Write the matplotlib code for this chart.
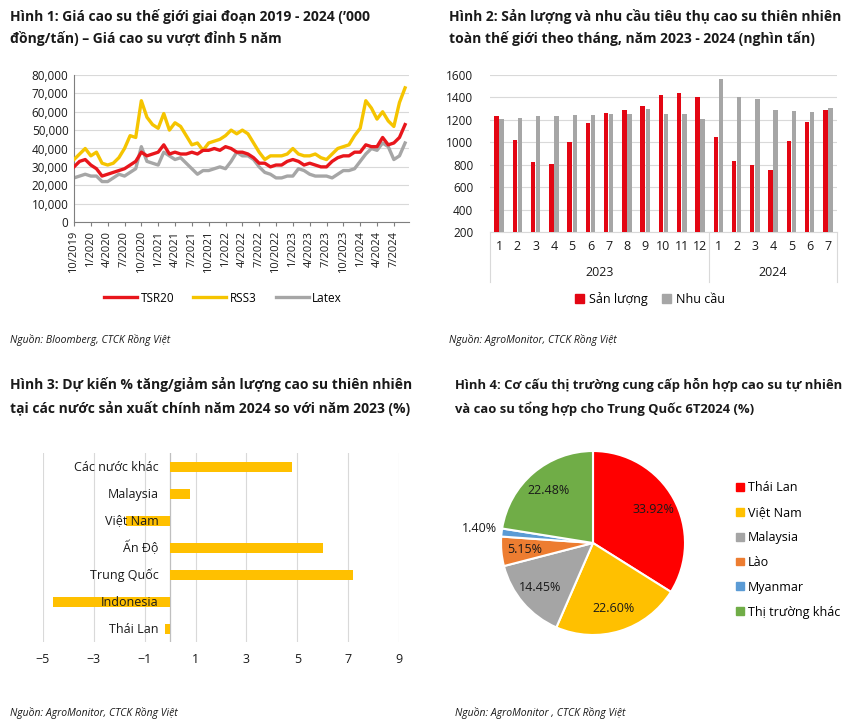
import matplotlib
matplotlib.use("Agg")
import matplotlib.pyplot as plt
from matplotlib.ticker import FuncFormatter
import numpy as np

W, H = 844, 724
plt.rcParams['font.family'] = ['Open Sans', 'DejaVu Sans']

# ---------------- Hình 1: giá cao su (theo tháng, 10/2019 - 9/2024) ----------------
date_ticks = ["10/2019", "1/2020", "4/2020", "7/2020", "10/2020", "1/2021", "4/2021",
              "7/2021", "10/2021", "1/2022", "4/2022", "7/2022", "10/2022", "1/2023",
              "4/2023", "7/2023", "10/2023", "1/2024", "4/2024", "7/2024"]
tsr20 = [30000, 33000, 34000, 31000, 29000, 25000, 26000, 27000, 28000, 29000, 31000, 33000,
         38000, 36000, 37000, 38000, 42000, 37000, 38000, 37000, 37000, 38000, 37000, 39000,
         39000, 40000, 39000, 41000, 40000, 38000, 38000, 37000, 35000, 32000, 32000, 30000,
         31000, 31000, 33000, 34000, 33000, 31000, 32000, 31000, 30000, 30000, 33000, 35000,
         36000, 36000, 38000, 38000, 42000, 41000, 41000, 46000, 42000, 43000, 46000, 53000]
rss3 = [34000, 37000, 40000, 36000, 38000, 32000, 31000, 32000, 35000, 40000, 47000, 46000,
        66000, 57000, 53000, 51000, 59000, 50000, 54000, 52000, 47000, 42000, 43000, 39000,
        43000, 44000, 45000, 47000, 50000, 48000, 50000, 48000, 43000, 38000, 34000, 36000,
        36000, 36000, 37000, 40000, 37000, 36000, 36000, 37000, 35000, 34000, 37000, 40000,
        41000, 42000, 47000, 51000, 66000, 62000, 56000, 60000, 55000, 52000, 65000, 73000]
latex = [24000, 25000, 26000, 25000, 25000, 22000, 22000, 24000, 26000, 25000, 27000, 29000,
         41000, 33000, 32000, 31000, 38000, 36000, 34000, 35000, 32000, 29000, 26000, 28000,
         28000, 29000, 30000, 29000, 33000, 38000, 36000, 36000, 34000, 30000, 27000, 26000,
         24000, 24000, 25000, 25000, 29000, 28000, 26000, 25000, 25000, 25000, 24000, 26000,
         28000, 28000, 29000, 33000, 37000, 40000, 39000, 43000, 41000, 34000, 36000, 43000]

# ---------------- Hình 2: sản lượng & nhu cầu ----------------
months = ["1", "2", "3", "4", "5", "6", "7", "8", "9", "10", "11", "12",
          "1", "2", "3", "4", "5", "6", "7"]
years = ["2023", "2024"]
san_luong = [1230, 1020, 820, 810, 1000, 1170, 1260, 1290, 1325, 1420, 1440, 1400,
             1045, 830, 795, 750, 1010, 1185, 1290]
nhu_cau = [1210, 1220, 1230, 1230, 1240, 1240, 1250, 1250, 1295, 1250, 1250, 1210,
           1565, 1400, 1390, 1290, 1280, 1270, 1310]

# ---------------- Hình 3: % tăng/giảm 2024 so với 2023 ----------------
countries = ["Các nước khác", "Malaysia", "Việt Nam", "Ấn Độ", "Trung Quốc", "Indonesia", "Thái Lan"]
change_pct = [4.8, 0.8, -1.75, 6.0, 7.2, -4.6, -0.2]

# ---------------- Hình 4: cơ cấu thị trường ----------------
markets = ["Thái Lan", "Việt Nam", "Malaysia", "Lào", "Myanmar", "Thị trường khác"]
shares = [33.92, 22.60, 14.45, 5.15, 1.40, 22.48]
pie_colors = ["#FF0000", "#FFC000", "#A5A5A5", "#ED7D31", "#5B9BD5", "#70AD47"]

RED = "#E8161C"
YELLOW = "#F5C400"
GRAY = "#A6A6A6"
GRID = "#D9D9D9"
TXT = "#1A1A1A"

fig = plt.figure(figsize=(W / 100, H / 100), dpi=100)


def px_axes(l, t, r, b):
    return fig.add_axes([l / W, 1 - b / H, (r - l) / W, (b - t) / H])


def px_text(x, y, s, **kw):
    fig.text(x / W, 1 - y / H, s, **kw)


title_kw = dict(fontsize=10, fontweight='bold', color=TXT, va='center', ha='left')
src_kw = dict(fontsize=7.5, style='italic', color=TXT, va='center', ha='left',
              family=['Liberation Sans Narrow', 'Open Sans'])

# ----- titles -----
px_text(10, 17, "Hình 1: Giá cao su thế giới giai đoạn 2019 - 2024 (’000", **title_kw)
px_text(10, 38, "đồng/tấn) – Giá cao su vượt đỉnh 5 năm", **title_kw)
px_text(449, 17, "Hình 2: Sản lượng và nhu cầu tiêu thụ cao su thiên nhiên", **title_kw)
px_text(449, 38, "toàn thế giới theo tháng, năm 2023 - 2024 (nghìn tấn)", **title_kw)
px_text(10, 385, "Hình 3: Dự kiến % tăng/giảm sản lượng cao su thiên nhiên", **title_kw)
px_text(10, 409, "tại các nước sản xuất chính năm 2024 so với năm 2023 (%)", **title_kw)
t4 = dict(title_kw, fontsize=9.4)
px_text(455, 385, "Hình 4: Cơ cấu thị trường cung cấp hỗn hợp cao su tự nhiên", **t4)
px_text(455, 409, "và cao su tổng hợp cho Trung Quốc 6T2024 (%)", **t4)

px_text(10, 340, "Nguồn: Bloomberg, CTCK Rồng Việt", **src_kw)
px_text(449, 340, "Nguồn: AgroMonitor, CTCK Rồng Việt", **src_kw)
px_text(10, 713, "Nguồn: AgroMonitor, CTCK Rồng Việt", **src_kw)
px_text(455, 713, "Nguồn: AgroMonitor , CTCK Rồng Việt", **src_kw)

# ----- Hình 1 -----
ax1 = px_axes(74, 75, 409, 222)
x = np.arange(len(tsr20))
ax1.plot(x, tsr20, color=RED, lw=2.4, label="TSR20", zorder=4)
ax1.plot(x, rss3, color=YELLOW, lw=2.4, label="RSS3", zorder=3)
ax1.plot(x, latex, color=GRAY, lw=2.4, label="Latex", zorder=2)
ax1.set_ylim(0, 80000)
ax1.set_xlim(0, 59.7)
ax1.set_yticks(range(0, 80001, 10000))
ax1.yaxis.set_major_formatter(FuncFormatter(lambda v, p: f"{int(v):,}"))
ax1.set_xticks(np.arange(0, 58, 3))
ax1.set_xticklabels(date_ticks, rotation=90)
ax1.tick_params(axis='y', length=0, labelsize=8.5, colors=TXT, pad=4)
ax1.tick_params(axis='x', length=3, labelsize=8, colors=TXT, color="#7F7F7F")
ax1.grid(axis='y', color=GRID, lw=0.8)
ax1.set_axisbelow(True)
for s in ["top", "right"]:
    ax1.spines[s].set_visible(False)
for s in ["left", "bottom"]:
    ax1.spines[s].set_color("#7F7F7F")
fig.legend(handles=ax1.get_lines(), loc='center', bbox_to_anchor=(223 / W, 1 - 298 / H),
           ncol=3, frameon=False, fontsize=8.5, handlelength=2.8, columnspacing=1.6,
           handletextpad=0.3)

# ----- Hình 2 -----
ax2 = px_axes(490, 75, 837, 232)
xm = np.arange(len(months))
bw = 0.24
ax2.bar(xm - 0.14, san_luong, bw, color="#E30613", label="Sản lượng", zorder=3)
ax2.bar(xm + 0.14, nhu_cau, bw, color="#A6A6A6", label="Nhu cầu", zorder=3)
ax2.set_ylim(200, 1600)
ax2.set_xlim(-0.5, len(months) - 0.5)
ax2.set_yticks(range(200, 1601, 200))
ax2.set_xticks(xm)
ax2.set_xticklabels(months)
ax2.tick_params(axis='y', length=0, labelsize=8.5, colors=TXT, pad=12)
ax2.tick_params(axis='x', length=0, labelsize=9, colors=TXT, pad=6)
ax2.grid(axis='y', color=GRID, lw=0.8)
ax2.set_axisbelow(True)
for s in ["top", "right", "left"]:
    ax2.spines[s].set_visible(False)
ax2.spines["bottom"].set_color(GRID)
tr = ax2.get_xaxis_transform()
for sx in [-0.5, 11.5, len(months) - 0.5]:
    ax2.plot([sx, sx], [0, -0.32], transform=tr, color=GRID, lw=0.8, clip_on=False)
ax2.text(5.5, -0.26, years[0], transform=tr, ha='center', va='center', fontsize=9, color=TXT)
ax2.text(15.0, -0.26, years[1], transform=tr, ha='center', va='center', fontsize=9, color=TXT)
fig.legend(handles=[plt.Rectangle((0, 0), 1, 1, color="#E30613"),
                    plt.Rectangle((0, 0), 1, 1, color="#A6A6A6")],
           labels=["Sản lượng", "Nhu cầu"], loc='center', bbox_to_anchor=(650 / W, 1 - 299 / H),
           ncol=2, frameon=False, fontsize=9, handlelength=0.7, handleheight=0.7,
           handletextpad=0.4, columnspacing=1.2)

# ----- Hình 3 -----
ax3 = px_axes(43, 453, 399, 642)
yc = np.arange(len(countries))[::-1]
ax3.barh(yc, change_pct, height=0.35, color="#FFC000", zorder=3)
ax3.set_xlim(-5, 9)
ax3.set_ylim(-0.48, len(countries) - 0.48)
ax3.set_xticks(range(-5, 10, 2))
ax3.set_yticks([])
ax3.grid(axis='x', color=GRID, lw=0.8)
ax3.axvline(0, color="#BFBFBF", lw=0.9, zorder=2)
ax3.set_axisbelow(True)
for s in ax3.spines.values():
    s.set_visible(False)
ax3.tick_params(axis='x', length=0, labelsize=9, colors=TXT, pad=8)
for yy, name in zip(yc, countries):
    ax3.text(-0.45, yy, name, ha='right', va='center', fontsize=9, color=TXT, zorder=4)

# ----- Hình 4 -----
R = 92
ax4 = px_axes(593 - 100, 543 - 100, 593 + 100, 543 + 100)
wedges, _ = ax4.pie(shares, colors=pie_colors, startangle=90, counterclock=False,
                    wedgeprops=dict(edgecolor='white', linewidth=1.5))
lim = 100 / R
ax4.set_xlim(-lim, lim)
ax4.set_ylim(-lim, lim)
ax4.set_aspect('equal')
ax4.axis('off')
for w, v in zip(wedges, shares):
    ang = np.deg2rad((w.theta1 + w.theta2) / 2)
    if v < 3:
        ax4.text(1.24 * np.cos(ang), 1.24 * np.sin(ang) + 0.02, f"{v:.2f}%", ha='center',
                 va='center', fontsize=9, color=TXT)
    else:
        ax4.text(0.75 * np.cos(ang), 0.75 * np.sin(ang), f"{v:.2f}%", ha='center',
                 va='center', fontsize=9, color=TXT)
fig.legend(handles=[plt.Rectangle((0, 0), 1, 1, color=c) for c in pie_colors], labels=markets,
           loc='upper left', bbox_to_anchor=(725 / W, 1 - 470 / H), frameon=False, fontsize=9,
           handlelength=0.6, handleheight=0.6, handletextpad=0.35, labelspacing=0.95)

fig.savefig("out.png", dpi=100)
